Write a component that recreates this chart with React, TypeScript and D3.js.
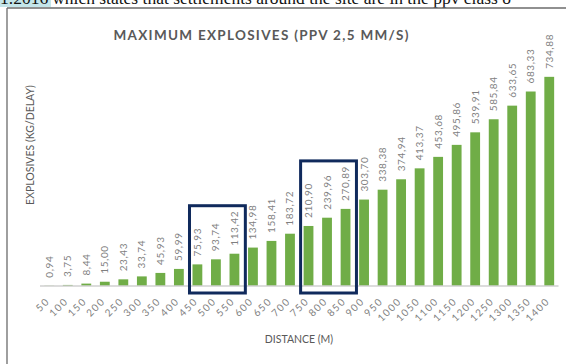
import React from "react";
import * as d3 from "d3";

// Distance from the blast (m) and maximum charge per delay (kg) for PPV 2,5 mm/s
const distances: string[] = [
  "50", "100", "150", "200", "250", "300", "350", "400", "450", "500",
  "550", "600", "650", "700", "750", "800", "850", "900", "950", "1000",
  "1050", "1100", "1150", "1200", "1250", "1300", "1350", "1400",
];
const charges: number[] = [
  0.94, 3.75, 8.44, 15.0, 23.43, 33.74, 45.93, 59.99, 75.93, 93.74,
  113.42, 134.98, 158.41, 183.72, 210.9, 239.96, 270.89, 303.7, 338.38, 374.94,
  413.37, 453.68, 495.86, 539.91, 585.84, 633.65, 683.33, 734.88,
];
// Groups of distances outlined with a frame
const highlightGroups: string[][] = [
  ["450", "500", "550"],
  ["750", "800", "850"],
];

const chartTitle = "MAXIMUM EXPLOSIVES (PPV 2,5 MM/S)";
const yTitle = "EXPLOSIVES (KG/DELAY)";
const xTitle = "DISTANCE (M)";
const precedingLine = "which states that settlements around the site are in the ppv class o";
const precedingRef = "1.2016";

const W = 566;
const H = 364;
const FONT = "Lato, 'Open Sans', sans-serif";

const fmt = (v: number) => v.toFixed(2).replace(".", ",");

export default function App() {
  const x = d3.scaleBand<string>().domain(distances).range([40, 558.5]).paddingInner(0.47).paddingOuter(0.235);
  const y = d3.scaleLinear().domain([0, 800]).range([286, 58.3]);
  const base = y(0);
  const bw = x.bandwidth();

  return (
    <svg width={W} height={H} style={{ position: "absolute", left: 0, top: 0, background: "#fff" }}>
      {/* surrounding document text, clipped at the top */}
      <rect x={0} y={-14} width={51} height={21} fill="#c4e6ea" />
      <text x={0} y={3.5} fontFamily="'Liberation Serif', 'Times New Roman', serif" fontSize={17.5} fill="#111">
        {precedingRef}
        <tspan dx={4}>{precedingLine}</tspan>
      </text>

      {/* chart frame */}
      <line x1={7} y1={8} x2={W} y2={8} stroke="#6b6b6b" strokeWidth={1.3} />
      <line x1={7} y1={8} x2={7} y2={H} stroke="#6b6b6b" strokeWidth={1.3} />

      <text x={261} y={40} textAnchor="middle" fontFamily={FONT} fontWeight={700} fontSize={13.5}
        fill="#595959" textLength={295} lengthAdjust="spacing">{chartTitle}</text>

      <text transform={`translate(34,145) rotate(-90)`} textAnchor="middle" fontFamily={FONT}
        fontSize={10.5} fill="#595959">{yTitle}</text>

      {/* bars */}
      {distances.map((d, i) => (
        <rect key={d} x={x(d)} y={y(charges[i])} width={bw} height={base - y(charges[i])} fill="#70ad47" />
      ))}

      {/* value labels */}
      {distances.map((d, i) => {
        const cx = (x(d) as number) + bw / 2 + 3.5;
        const ty = y(charges[i]) - 8;
        return (
          <text key={d} transform={`translate(${cx},${ty}) rotate(-90)`} fontFamily={FONT}
            fontSize={10} letterSpacing={0.6} fill="#7f7f7f">{fmt(charges[i])}</text>
        );
      })}

      <line x1={40} x2={558.5} y1={base} y2={base} stroke="#d0d0d0" strokeWidth={1.5} />

      {/* category labels */}
      {distances.map((d) => {
        const cx = (x(d) as number) + bw / 2 + 1;
        return (
          <text key={d} transform={`translate(${cx},${base + 16}) rotate(-45)`} textAnchor="end"
            fontFamily={FONT} fontSize={10} letterSpacing={1.4} fill="#7f7f7f">{d}</text>
        );
      })}

      <text x={299} y={343} textAnchor="middle" fontFamily={FONT} fontSize={10.5} fill="#595959">{xTitle}</text>

      {/* highlight frames */}
      {highlightGroups.map((g) => {
        const left = (x(g[0]) as number) - 3;
        const right = (x(g[g.length - 1]) as number) + bw + 6;
        const top = d3.min(g, (k) => y(charges[distances.indexOf(k)])) as number - 48;
        return (
          <rect key={g[0]} x={left} y={top} width={right - left} height={base + 7 - top}
            fill="none" stroke="#102a5c" strokeWidth={3} />
        );
      })}
    </svg>
  );
}
